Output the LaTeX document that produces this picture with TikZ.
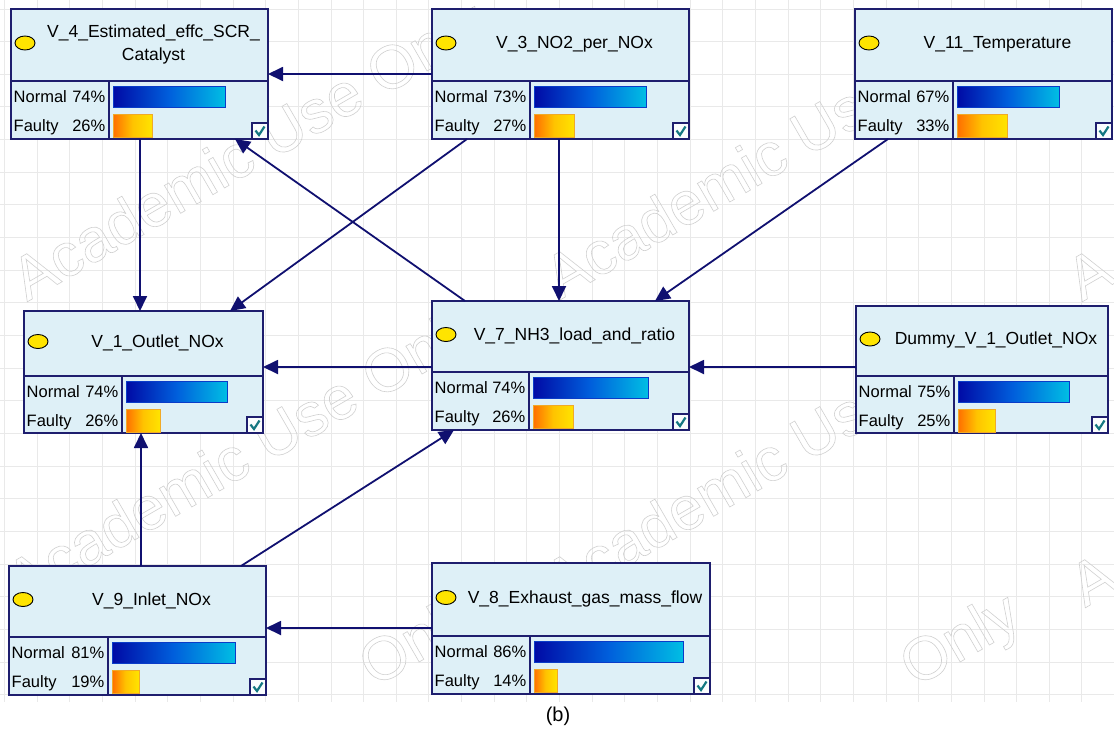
\documentclass[tikz,border=0pt]{standalone}
\usepackage{fontspec}
\setmainfont{Liberation Sans}
\usetikzlibrary{arrows.meta,shapes.geometric,calc}

\definecolor{boxbg}{RGB}{222,240,247}
\definecolor{navy}{RGB}{30,30,110}
\definecolor{edgec}{RGB}{16,16,112}
\definecolor{bluea}{RGB}{0,10,165}
\definecolor{blueb}{RGB}{0,95,220}
\definecolor{bluec}{RGB}{0,190,228}
\definecolor{blueline}{RGB}{10,60,200}
\definecolor{orga}{RGB}{255,110,0}
\definecolor{orgb}{RGB}{255,195,0}
\definecolor{orgc}{RGB}{255,228,0}
\definecolor{orgline}{RGB}{240,170,40}
\definecolor{chkc}{RGB}{20,120,130}
\definecolor{gridc}{RGB}{233,233,233}
\definecolor{wmc}{RGB}{208,208,208}
\definecolor{ellc}{RGB}{255,228,0}

\newcommand{\wmtext}[1]{\special{pdf:literal direct 1 Tr 0.6 w}#1\special{pdf:literal direct 0 Tr}}

\tikzset{
  nbox/.style={rectangle, draw=navy, line width=1.8pt, fill=boxbg, inner sep=0pt, outer sep=0pt},
  nline/.style={draw=navy, line width=1.8pt},
  ttl/.style={font=\fontsize{17.5}{20}\selectfont, inner sep=0pt, anchor=base},
  st/.style={font=\fontsize{16.5}{19}\selectfont, inner sep=0pt},
  ell/.style={ellipse, draw=black, fill=ellc, minimum width=20pt, minimum height=14pt, inner sep=0pt, line width=0.9pt},
  conn/.style={draw=edgec, line width=1.8pt, -{Triangle[length=15pt,width=14pt]}},
  wm/.style={font=\fontsize{61}{63}\selectfont, text=wmc, inner sep=0pt, anchor=base west, rotate=30},
  gridline/.style={draw=gridc, line width=1pt}
}

% watermark word: #1 name, #2 #3 start of the line, #4 distance along it, #5 text
\newcommand{\wmw}[5]{\node[wm] (#1) at ({#2+#4*0.866},{#3-#4*0.5}) {\wmtext{#5}};}

% geometry: #1 name #2 L #3 T #4 R #5 B #6 D #7 V #8 blue end #9 orange end
\newcommand{\bayes}[9]{%
  \node[nbox, minimum width={#4-#2}, minimum height={#5-#3}] (#1) at ({(#2+#4)/2},{(#3+#5)/2}) {};
  \draw[nline] (#2,#6) -- (#4,#6);
  \draw[nline] (#7,#6) -- (#7,#5);
  \shadedraw[left color=bluea, right color=bluec, middle color=blueb, draw=blueline, line width=0.8pt] (#7+4,#6+5) rectangle (#8,#6+26);
  \shadedraw[left color=orga, right color=orgc, middle color=orgb, draw=orgline, line width=0.8pt] (#7+4,#6+33) rectangle (#9,#6+56);
  \filldraw[fill=white!85!boxbg, draw=navy, line width=1.5pt] (#4-16,#5-16) rectangle (#4,#5);
  \draw[chkc, line width=2.2pt] (#4-12.5,#5-8.5) -- (#4-9,#5-4) -- (#4-3.5,#5-12.5);
}
% texts: #1 name #2 L #3 T #4 R #5 D #6 V #7 title #8 normal #9 faulty
\newcommand{\btx}[9]{%
  \node[ttl] (#1t) at ({(#2+28+#4)/2},{(#3+#5)/2+3.5}) {#7};
  \node[ell] (#1e) at (#2+14,{(#3+#5)/2-2}) {};
  \node[st, anchor=base west] (#1nl) at (#2+2.5,#5+21) {Normal};
  \node[st, anchor=base east] (#1np) at (#6-3.5,#5+21) {#8\%};
  \node[st, anchor=base west] (#1fl) at (#2+2.5,#5+50) {Faulty};
  \node[st, anchor=base east] (#1fp) at (#6-3.5,#5+50) {#9\%};
}

\begin{document}
\begin{tikzpicture}[x=1pt,y=-1pt]
\useasboundingbox (0,0) rectangle (1114,732);
\fill[white] (0,0) rectangle (1114,732);
% grid
\foreach \k in {0,...,34} { \draw[gridline] ({4.5+32.65*\k},0) -- ({4.5+32.65*\k},702); }
\foreach \k in {0,...,21} { \draw[gridline] (0,{9+32.65*\k}) -- (1114,{9+32.65*\k}); }
% watermark
\begin{scope}
\clip (0,0) rectangle (1114,702);
\wmw{w1}{27}{302}{0}{Academic Use Only}
\wmw{w2}{560}{300}{0}{Academic Use}
\wmw{w3}{1082}{302}{0}{A}
\wmw{w4}{22}{605}{0}{Academic Use Only}
\wmw{w5}{560}{605}{0}{Academic Use}
\wmw{w6}{1085}{608}{0}{A}
\wmw{w7}{19}{893}{410.2}{Only}
\wmw{w8}{560}{893}{410.2}{Only}
\end{scope}

% nodes
\bayes{n4}{11}{9}{268}{139}{81}{109}{225}{152}
\node[ttl] (n4t1) at (153.5,37) {V\_4\_Estimated\_effc\_SCR\_};
\node[ttl] (n4t2) at (153.5,60) {Catalyst};
\node[ell] (n4e) at (25,43) {};
\node[st, anchor=base west] (n4nl) at (13.5,102) {Normal};
\node[st, anchor=base east] (n4np) at (105.5,102) {74\%};
\node[st, anchor=base west] (n4fl) at (13.5,131) {Faulty};
\node[st, anchor=base east] (n4fp) at (105.5,131) {26\%};

\bayes{n3}{432}{9}{689}{139}{81}{530}{646}{574}
\btx{n3}{432}{9}{689}{81}{530}{V\_3\_NO2\_per\_NOx}{73}{27}

\bayes{n11}{855}{9}{1112}{139}{81}{953}{1059}{1007}
\btx{n11}{855}{9}{1112}{81}{953}{V\_11\_Temperature}{67}{33}

\bayes{n1}{24}{311}{263}{433}{376}{122}{227}{160}
\btx{n1}{24}{311}{263}{376}{122}{V\_1\_Outlet\_NOx}{74}{26}

\bayes{n7}{432}{301}{689}{430}{372}{529}{648}{573}
\btx{n7}{432}{301}{689}{372}{529}{V\_7\_NH3\_load\_and\_ratio}{74}{26}

\bayes{nd}{856}{306}{1108}{433}{376}{954}{1069}{995}
\btx{nd}{856}{306}{1108}{376}{954}{Dummy\_V\_1\_Outlet\_NOx}{75}{25}

\bayes{n9}{9}{566}{266}{695}{637}{108}{235}{139}
\btx{n9}{9}{566}{266}{637}{108}{V\_9\_Inlet\_NOx}{81}{19}

\bayes{n8}{432}{563}{710}{694}{636}{530}{683}{557}
\btx{n8}{432}{563}{710}{636}{530}{V\_8\_Exhaust\_gas\_mass\_flow}{86}{14}

% connectors
\draw[conn] (n3.west) -- (n4.east);
\draw[conn] ([shift={(33,0)}]n7.north west) -- ([shift={(224,0)}]n4.south west);
\draw[conn] ([shift={(129,0)}]n4.south west) -- ([shift={(116,0)}]n1.north west);
\draw[conn] ([shift={(35,0)}]n3.south west) -- ([shift={(206,0)}]n1.north west);
\draw[conn] ([shift={(127,0)}]n3.south west) -- ([shift={(127,0)}]n7.north west);
\draw[conn] ([shift={(33,0)}]n11.south west) -- ([shift={(223,0)}]n7.north west);
\draw[conn] ([shift={(0,66)}]n7.north west) -- ([shift={(0,56)}]n1.north east);
\draw[conn] ([shift={(0,61)}]nd.north west) -- ([shift={(0,66)}]n7.north east);
\draw[conn] ([shift={(132,0)}]n9.north west) -- ([shift={(117,0)}]n1.south west);
\draw[conn] ([shift={(232,0)}]n9.north west) -- ([shift={(22,0)}]n7.south west);
\draw[conn] ([shift={(0,65)}]n8.north west) -- ([shift={(0,62)}]n9.north east);

\node[font=\fontsize{20}{22}\selectfont, inner sep=0pt] (cap) at (558,716) {(b)};
\end{tikzpicture}
\end{document}
